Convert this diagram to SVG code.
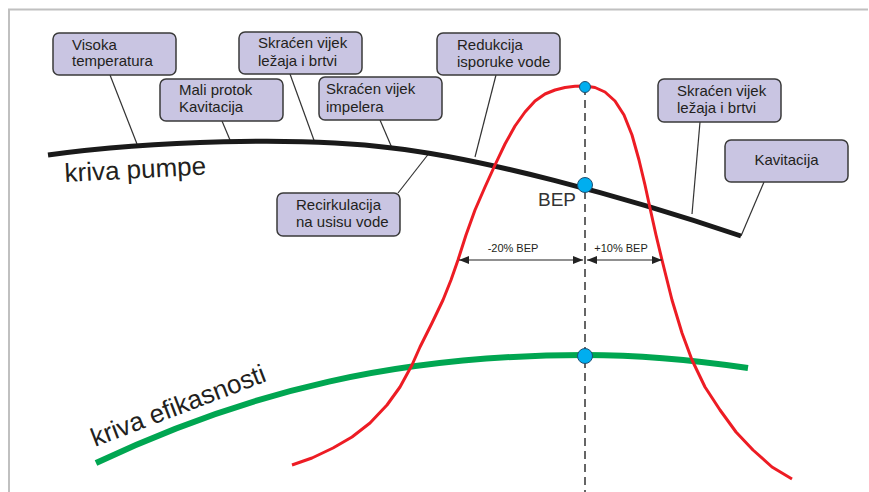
<svg xmlns="http://www.w3.org/2000/svg" width="869" height="492" viewBox="0 0 869 492">
<style>
.box{fill:#c9c5e2;stroke:#3a3a3a;stroke-width:1.5}
.bt{font-family:"Liberation Sans",Arial,sans-serif;font-size:15px;fill:#231f20}
.lead{stroke:#333;stroke-width:1.2;fill:none}
.dot{fill:#00aeef;stroke:#1f4f70;stroke-width:1}
.dim{stroke:#222;stroke-width:1.2;fill:none;marker-start:url(#ah);marker-end:url(#ah)}
.dt{font-family:"Liberation Sans",Arial,sans-serif;font-size:11px;fill:#231f20;text-anchor:middle}
.big{font-family:"Liberation Sans",Arial,sans-serif;font-size:26px;fill:#231f20}
</style>
<defs>
<marker id="ah" viewBox="0 0 10 8" refX="10" refY="4" markerWidth="10" markerHeight="8" markerUnits="userSpaceOnUse" orient="auto-start-reverse">
<path d="M0,0 L10,4 L0,8 Z" fill="#222"/>
</marker>
</defs>
<rect width="869" height="492" fill="#fff"/>
<path d="M9,492 V9.5 H868" fill="none" stroke="#c0c0c0" stroke-width="2"/>

<g id="connectors">
<line class="lead" x1="110" y1="75" x2="137" y2="144"/>
<line class="lead" x1="222" y1="121" x2="230" y2="140"/>
<line class="lead" x1="290" y1="74" x2="315" y2="143"/>
<line class="lead" x1="380" y1="120" x2="392" y2="148"/>
<line class="lead" x1="496" y1="75" x2="475" y2="157"/>
<line class="lead" x1="398" y1="193" x2="430" y2="152"/>
<line class="lead" x1="700" y1="122" x2="692" y2="214"/>
<line class="lead" x1="764" y1="182" x2="741" y2="236"/>
</g>

<g id="curves">
<line x1="585" y1="87" x2="585" y2="492" stroke="#333" stroke-width="1.5" stroke-dasharray="8,5"/>
<path id="kriva-pumpe" d="M48,155 C150,141 300,136 392,148 C480,158 620,195 741,236" fill="none" stroke="#1a1a1a" stroke-width="5"/>
<path id="kriva-efikasnosti" d="M96,463 C250,390 400,355 585,355 C640,355 700,361 748,368" fill="none" stroke="#00a651" stroke-width="6"/>
<polyline id="red" fill="none" stroke="#ed1c24" stroke-width="3" stroke-linejoin="round" points="292,465 312,458 333,448 352,437 370,423 387,405 400,387 412,365 420,347 432,323 443,300 451,280 458,260 466,235 475,210 485,187 495,165 505,144 515,126 525,112 535,101 545,94 555,90 565,87.5 575,86.3 585,86 595,87.5 605,92 615,101 624,115 632,135 639,160 645,185 650,208 656,235 662,260 672,300 682,333 692,360 705,387 720,410 736,432 753,450 772,467 792,479"/>
</g>

<g id="dims">
<line class="dim" x1="459" y1="260" x2="583" y2="260"/>
<line class="dim" x1="587" y1="260" x2="662" y2="260"/>
<text class="dt" x="513" y="252">-20% BEP</text>
<text class="dt" x="621" y="252">+10% BEP</text>
</g>

<g id="points">
<circle class="dot" cx="585" cy="87" r="5.5"/>
<circle class="dot" cx="585" cy="185" r="7.5"/>
<circle class="dot" cx="585" cy="356" r="7.5"/>
<text x="538" y="206" font-family="Liberation Sans,Arial,sans-serif" font-size="19" fill="#333">BEP</text>
</g>

<text class="big" x="65" y="182" transform="rotate(-3 65 182)">kriva pumpe</text>
<text class="big" x="95" y="447" transform="rotate(-21 95 447)">kriva efikasnosti</text>

<g id="n1"><rect class="box" x="53" y="33" width="123" height="42" rx="6"/><text class="bt" x="72" y="50">Visoka</text><text class="bt" x="72" y="66">temperatura</text></g>
<g id="n2"><rect class="box" x="160" y="79" width="123" height="42" rx="6"/><text class="bt" x="179" y="95">Mali protok</text><text class="bt" x="179" y="112">Kavitacija</text></g>
<g id="n3"><rect class="box" x="239" y="32" width="123" height="42" rx="6"/><text class="bt" x="258" y="48">Skraćen vijek</text><text class="bt" x="258" y="66">ležaja i brtvi</text></g>
<g id="n4"><rect class="box" x="319" y="77" width="123" height="43" rx="6"/><text class="bt" x="326" y="94">Skraćen vijek</text><text class="bt" x="326" y="112">impelera</text></g>
<g id="n5"><rect class="box" x="437" y="33" width="123" height="42" rx="6"/><text class="bt" x="457" y="50">Redukcija</text><text class="bt" x="457" y="67">isporuke vode</text></g>
<g id="n6"><rect class="box" x="658" y="79" width="123" height="43" rx="6"/><text class="bt" x="677" y="96">Skraćen vijek</text><text class="bt" x="677" y="113">ležaja i brtvi</text></g>
<g id="n7"><rect class="box" x="725" y="140" width="123" height="42" rx="6"/><text class="bt" x="786.5" y="165" text-anchor="middle">Kavitacija</text></g>
<g id="n8"><rect class="box" x="277" y="193" width="123" height="43" rx="6"/><text class="bt" x="296" y="210">Recirkulacija</text><text class="bt" x="296" y="227">na usisu vode</text></g>
</svg>
